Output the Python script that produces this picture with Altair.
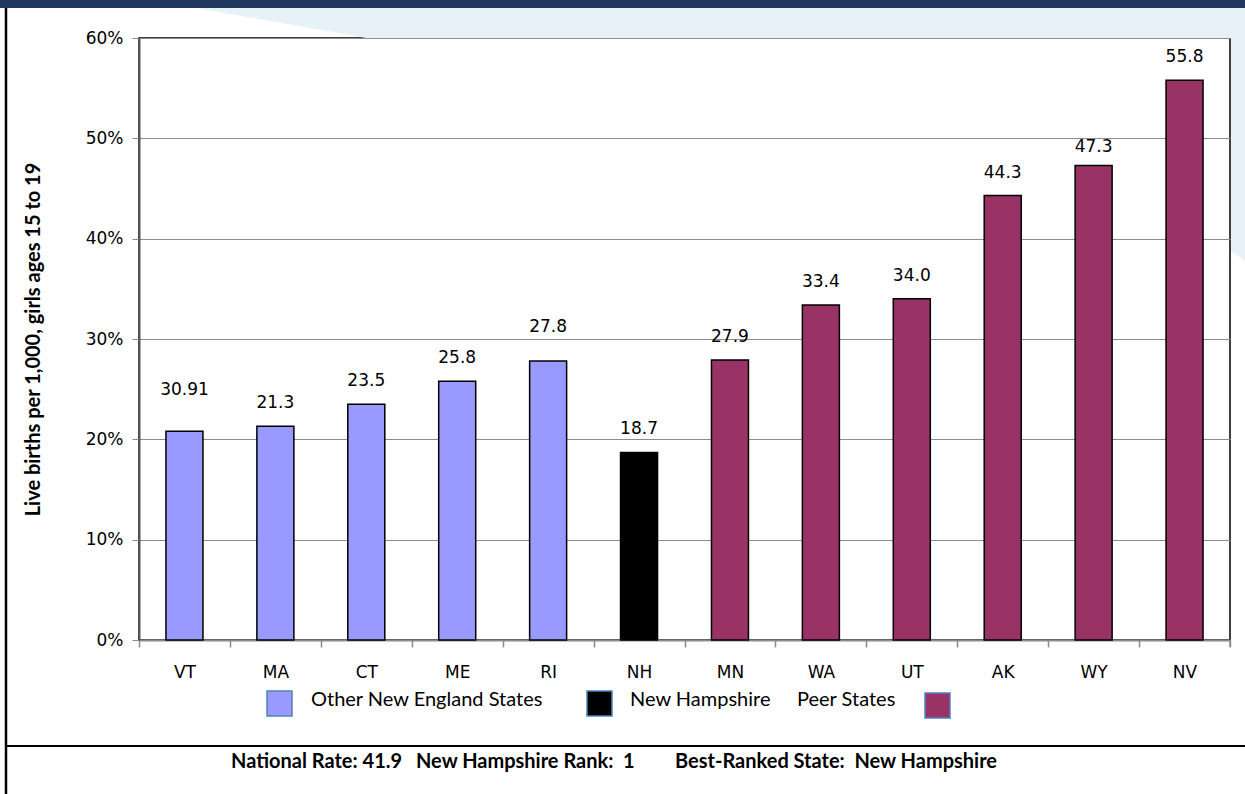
import altair as alt
import pandas as pd

# Teen birth rates by state
states = ["VT", "MA", "CT", "ME", "RI", "NH", "MN", "WA", "UT", "AK", "WY", "NV"]
rates = [20.8, 21.3, 23.5, 25.8, 27.8, 18.7, 27.9, 33.4, 34.0, 44.3, 47.3, 55.8]
rate_labels = ["30.91", "21.3", "23.5", "25.8", "27.8", "18.7",
               "27.9", "33.4", "34.0", "44.3", "47.3", "55.8"]
groups = (["Other New England States"] * 5 + ["New Hampshire"]
          + ["Peer States"] * 6)

group_names = ["Other New England States", "New Hampshire", "Peer States"]
group_colors = ["#9999ff", "#000000", "#993366"]
y_ticks = [0, 10, 20, 30, 40, 50, 60]
y_title = "Live births per 1,000, girls ages 15 to 19"
footer_parts = ["National Rate: 41.9",
                "New Hampshire Rank:\u00a0 1",
                "Best-Ranked State:\u00a0 New Hampshire"]

df = pd.DataFrame({"state": states, "rate": rates,
                   "label": rate_labels, "group": groups})
one = pd.DataFrame({"k": [0]})

W, H = 1091, 602
PAD = {"left": 139, "top": 38, "right": 15, "bottom": 154}

x_enc = alt.X(
    "state:N", sort=states,
    scale=alt.Scale(paddingInner=0, paddingOuter=0),
    axis=alt.Axis(title=None, labelAngle=0, tickBand="extent",
                  labelFont="DejaVu Sans", labelFontSize=17,
                  labelColor="#000", labelPadding=17,
                  domainColor="#8c8c8c", domainWidth=2,
                  tickColor="#8c8c8c", tickSize=7, tickWidth=1.5),
)
y_enc = alt.Y(
    "rate:Q",
    scale=alt.Scale(domain=[0, 60], nice=False),
    axis=alt.Axis(values=y_ticks, labelExpr="datum.value + '%'",
                  labelFont="DejaVu Sans", labelFontSize=17,
                  labelColor="#000", labelPadding=9,
                  domainColor="#595959", domainWidth=2,
                  tickColor="#8c8c8c", tickSize=7,
                  grid=True, gridColor="#8c8c8c", gridWidth=1,
                  title=y_title, titleFont="Lato", titleFontSize=20,
                  titleFontWeight="bold", titleColor="#000",
                  titleAngle=270, titleAlign="center",
                  titleBaseline="middle", titleX=-106, titleY=H / 2),
)

base = alt.Chart(one)

# page decoration: navy band, pale swoosh, frame lines
band = base.mark_rect(color="#22395f").encode(
    x=alt.value(-139), x2=alt.value(1106), y=alt.value(-38), y2=alt.value(-30))
swoosh = base.mark_point(
    shape="M58,-30 L1106,-30 L1106,223 L1092,213 L1092,0 L227,0 Z",
    size=4, filled=True, opacity=1, color="#e6f1f8", strokeWidth=0,
).encode(x=alt.value(0), y=alt.value(0))
left_edge = base.mark_rule(color="#000", strokeWidth=2.5).encode(
    x=alt.value(-133), y=alt.value(-30), y2=alt.value(756))
footer_line = base.mark_rule(color="#000", strokeWidth=2).encode(
    x=alt.value(-133), x2=alt.value(1106), y=alt.value(708))
end_tick = base.mark_rule(color="#8c8c8c", strokeWidth=1.5).encode(
    x=alt.value(W), y=alt.value(H), y2=alt.value(H + 7))

bars = alt.Chart(df).mark_bar(width=37, stroke="#000", strokeWidth=1.5).encode(
    x=x_enc, y=y_enc,
    color=alt.Color("group:N", scale=alt.Scale(domain=group_names,
                                               range=group_colors),
                    legend=None),
)


def value_text(filter_expr, dy):
    return alt.Chart(df).transform_filter(filter_expr).mark_text(
        font="DejaVu Sans", fontSize=17, color="#000",
        baseline="middle", dy=dy,
    ).encode(x=alt.X("state:N", sort=states), y="rate:Q", text="label:N")


labels_main = value_text("indexof(['VT','RI','WY'], datum.state) < 0", -23)
labels_vt = value_text("datum.state == 'VT'", -41)
labels_ri = value_text("datum.state == 'RI'", -34)
labels_wy = value_text("datum.state == 'WY'", -18)

# legend drawn by hand: swatch, label ... label, swatch
sw_style = dict(stroke="#4f81bd", strokeWidth=1.5)
sw1 = base.mark_rect(color=group_colors[0], **sw_style).encode(
    x=alt.value(128), x2=alt.value(153), y=alt.value(653), y2=alt.value(678))
sw2 = base.mark_rect(color=group_colors[1], **sw_style).encode(
    x=alt.value(448), x2=alt.value(473), y=alt.value(653), y2=alt.value(678))
sw3 = base.mark_rect(color=group_colors[2], **sw_style).encode(
    x=alt.value(786), x2=alt.value(811), y=alt.value(655), y2=alt.value(680))
leg_style = dict(font="Lato", fontSize=20, color="#000",
                 align="left", baseline="middle")
lt1 = base.mark_text(text=group_names[0], **leg_style).encode(
    x=alt.value(172), y=alt.value(662))
lt2 = base.mark_text(text=group_names[1], **leg_style).encode(
    x=alt.value(491), y=alt.value(662))
lt3 = base.mark_text(text=group_names[2], **leg_style).encode(
    x=alt.value(658), y=alt.value(662))

foot_style = dict(font="Lato", fontSize=20, fontWeight="bold", color="#000",
                  align="left", baseline="middle")
ft = [base.mark_text(text=t, **foot_style).encode(x=alt.value(x), y=alt.value(724))
      for t, x in zip(footer_parts, [92, 277, 536])]

chart = alt.layer(
    band, swoosh, left_edge, footer_line,
    bars, end_tick, labels_main, labels_vt, labels_ri, labels_wy,
    sw1, sw2, sw3, lt1, lt2, lt3, *ft,
).properties(
    width=W, height=H,
    autosize=alt.AutoSizeParams(type="none"),
    padding=PAD, background="#ffffff",
).configure_view(stroke="#000", strokeWidth=1.5)

chart.save("out.html", embed_options={"renderer": "svg", "actions": False})
